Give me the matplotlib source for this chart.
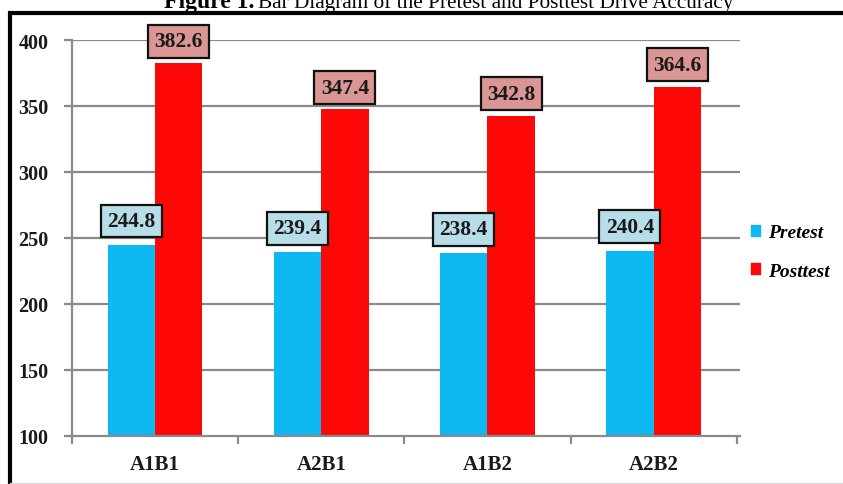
import matplotlib
matplotlib.use("Agg")
import matplotlib.pyplot as plt
import numpy as np
from matplotlib.patches import Rectangle
from matplotlib.lines import Line2D

categories = ["A1B1", "A2B1", "A1B2", "A2B2"]
pretest = [244.8, 239.4, 238.4, 240.4]
posttest = [382.6, 347.4, 342.8, 364.6]
yticks = [100, 150, 200, 250, 300, 350, 400]

SERIF = ["Liberation Serif", "DejaVu Serif"]
plt.rcParams["font.family"] = SERIF

W, H = 843, 485
fig = plt.figure(figsize=(W / 100, H / 100), dpi=100)

def fx(px):
    return px / W

def fy(py):
    return 1 - py / H

# frame lines
fig.add_artist(Line2D([fx(8), fx(843)], [fy(13.8), fy(13.8)], color="black", lw=3.0, solid_capstyle="butt"))
fig.add_artist(Line2D([fx(10), fx(10)], [fy(12.3), fy(485)], color="black", lw=3.0, solid_capstyle="butt"))
fig.add_artist(Line2D([fx(10), fx(843)], [fy(483.5), fy(483.5)], color="#d9d9d9", lw=1.0))

# title (partially cropped, as in the reference)
fig.text(fx(254), fy(8), "Figure 1.", ha="right", va="baseline", fontsize=17, fontweight="bold")
fig.text(fx(258), fy(8), "Bar Diagram of the Pretest and Posttest Drive Accuracy", ha="left", va="baseline", fontsize=15.3)

ax = fig.add_axes([fx(72), fy(437), fx(740) - fx(72), fy(41) - fy(437)])

x = np.arange(len(categories))
bw = 0.285
gray = "#8a8a8a"
blue = "#0DB8F3"
red = "#FD0707"

ax.set_ylim(100, 400)
ax.set_xlim(-0.5, 3.5 + 0.02)
ax.set_yticks(yticks)
for yv in yticks[1:]:
    ax.axhline(yv, color=gray, lw=1.6, zorder=0)

b1 = ax.bar(x - bw / 2, [p - 100 for p in pretest], bw, bottom=100, color=blue, zorder=2)
b2 = ax.bar(x + bw / 2, [p - 100 for p in posttest], bw, bottom=100, color=red, zorder=2)

for xi, v in zip(x - bw / 2, pretest):
    ax.annotate(f"{v}", (xi, v), xytext=(0, 10), textcoords="offset points",
                ha="center", va="bottom", fontsize=15.5, fontweight="bold", color="#1a1a1a",
                bbox=dict(boxstyle="square,pad=0.3", fc="#B7DEE8", ec="#111111", lw=1.6), zorder=5)
for xi, v in zip(x + bw / 2, posttest):
    ax.annotate(f"{v}", (xi, v), xytext=(0, 8.5), textcoords="offset points",
                ha="center", va="bottom", fontsize=15.5, fontweight="bold", color="#1a1a1a",
                bbox=dict(boxstyle="square,pad=0.3", fc="#D99694", ec="#111111", lw=1.6), zorder=5)

for s in ["top", "right"]:
    ax.spines[s].set_visible(False)
ax.spines["left"].set_color(gray)
ax.spines["left"].set_linewidth(1.6)
ax.spines["bottom"].set_color(gray)
ax.spines["bottom"].set_linewidth(1.6)

ax.tick_params(axis="y", length=6, width=1.6, color=gray, pad=11, labelsize=14.5)
ax.set_xticks(x)
ax.set_xticklabels(categories)
ax.set_xticks(np.arange(-0.5, 4.0, 1.0), minor=True)
ax.tick_params(axis="x", which="major", length=0, pad=13, labelsize=15)
ax.tick_params(axis="x", which="minor", length=6, width=1.6, color=gray)
for lab in ax.get_yticklabels() + ax.get_xticklabels():
    lab.set_fontweight("bold")
    lab.set_color("#1a1a1a")

# legend
handles = [Rectangle((0, 0), 1, 1, color=blue), Rectangle((0, 0), 1, 1, color=red)]
leg = fig.legend(handles, ["Pretest", "Posttest"], loc="center left",
                 bbox_to_anchor=(fx(733), fy(253)), frameon=False,
                 prop=dict(family=SERIF, style="italic", weight="bold", size=14),
                 handlelength=0.5, handleheight=0.5, handletextpad=0.4, labelspacing=1.1)

fig.savefig("out.png", dpi=100)
